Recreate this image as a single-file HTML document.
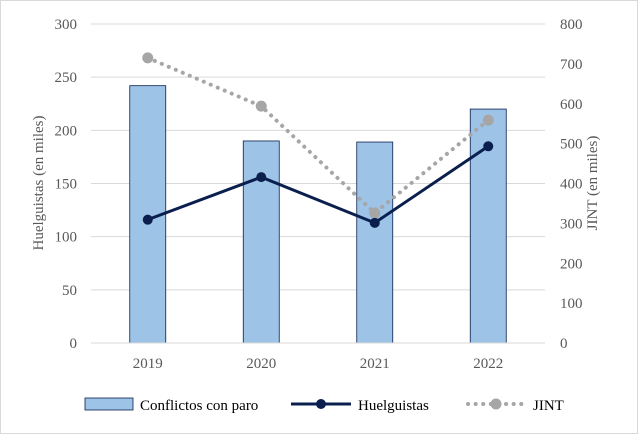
<!DOCTYPE html>
<html><head><meta charset="utf-8"><style>
body{margin:0;background:#fff}
svg{display:block;font-family:"Liberation Serif",serif}
</style></head><body>
<svg id="c" width="638" height="434" viewBox="0 0 638 434">
<rect x="0.5" y="0.5" width="637" height="433" fill="#fff" stroke="#d9d9d9"/>
<g id="grid"></g><g id="bars"></g><g id="lines"></g><g id="axes"></g>
<text transform="translate(43,183) rotate(-90)" text-anchor="middle" font-size="15" fill="#595959">Huelguistas  (en miles)</text>
<text transform="translate(597,183) rotate(-90)" text-anchor="middle" font-size="15" fill="#595959">JINT  (en miles)</text>
<g font-size="15" fill="#000">
<g><rect x="85" y="398" width="48" height="12" fill="#9dc3e6" stroke="#0b1f4f" stroke-width="0.8"/><text x="140" y="410">Conflictos con paro</text></g>
<g><line x1="291" y1="404" x2="351" y2="404" stroke="#0b1f4f" stroke-width="3"/><circle cx="321" cy="404" r="5" fill="#0b1f4f"/><text x="358" y="410">Huelguistas</text></g>
<g><line x1="468" y1="404" x2="526" y2="404" stroke="#a6a6a6" stroke-width="4" stroke-linecap="round" stroke-dasharray="0.1,7.5"/><circle cx="496" cy="404" r="5.5" fill="#a6a6a6"/><text x="533" y="410">JINT</text></g>
</g>
</svg>
<script>
const categories=["2019","2020","2021","2022"];
const conflictos=[242,190,189,220];
const huelguistas=[116,156,113,185];
const jint=[715,594,326,559];
const leftTicks=[0,50,100,150,200,250,300];
const rightTicks=[0,100,200,300,400,500,600,700,800];
const NS="http://www.w3.org/2000/svg";
const X0=91,X1=545,Y0=343,Y1=24;
const band=(X1-X0)/categories.length;
const xc=i=>X0+band*(i+0.5);
const yL=v=>Y0-(v/300)*(Y0-Y1);
const yR=v=>Y0-(v/800)*(Y0-Y1);
function mk(t,a,p){const e=document.createElementNS(NS,t);for(const k in a)e.setAttribute(k,a[k]);p.appendChild(e);return e;}
const grid=document.getElementById('grid'),axes=document.getElementById('axes'),bars=document.getElementById('bars'),lines=document.getElementById('lines');
leftTicks.forEach(v=>{
 if(v>0){const g=mk('line',{x1:X0,x2:X1,y1:yL(v),y2:yL(v),stroke:'#d9d9d9'},grid);
 
 }
 const t=mk('text',{x:X0-14,y:yL(v)+5,'text-anchor':'end','font-size':15,fill:'#595959'},axes);t.textContent=v;
 
 
});
rightTicks.forEach(v=>{
 const t=mk('text',{x:X1+15,y:yR(v)+5,'font-size':15,fill:'#595959'},axes);t.textContent=v;
 
 
});
const ax=mk('line',{x1:X0,x2:X1,y1:Y0,y2:Y0,stroke:'#d9d9d9'},axes);


categories.forEach((c,i)=>{
 const t=mk('text',{x:xc(i),y:Y0+25,'text-anchor':'middle','font-size':15,fill:'#595959'},axes);t.textContent=c;
 
 
 const b=mk('rect',{x:xc(i)-18,y:yL(conflictos[i]),width:36,height:Y0-yL(conflictos[i]),fill:'#9dc3e6',stroke:'#0b1f4f','stroke-width':0.8},bars);
 
 
});
const jl=mk('polyline',{points:jint.map((v,i)=>xc(i)+','+yR(v)).join(' '),fill:'none',stroke:'#a6a6a6','stroke-width':4,'stroke-linecap':'round','stroke-dasharray':'0.1,7.5'},lines);


const hl=mk('polyline',{points:huelguistas.map((v,i)=>xc(i)+','+yL(v)).join(' '),fill:'none',stroke:'#0b1f4f','stroke-width':3},lines);


jint.forEach((v,i)=>{const p=mk('circle',{cx:xc(i),cy:yR(v),r:5.5,fill:'#a6a6a6'},lines);
 
 });
huelguistas.forEach((v,i)=>{const p=mk('circle',{cx:xc(i),cy:yL(v),r:5,fill:'#0b1f4f'},lines);
 
 });
</script>
</body></html>
